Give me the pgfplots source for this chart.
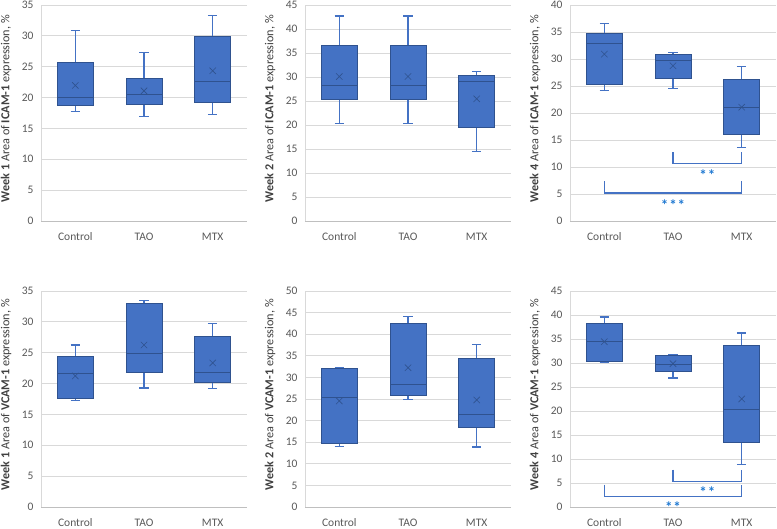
\documentclass[border=0pt]{standalone}
\usepackage{fontspec}
\setmainfont{Carlito}
\usepackage{pgfplots}
\pgfplotsset{compat=1.18}

\definecolor{boxfill}{HTML}{4472C4}
\definecolor{boxedge}{HTML}{2F528F}
\definecolor{gridgrey}{HTML}{D9D9D9}
\definecolor{axisgrey}{HTML}{BFBFBF}
\definecolor{ticktext}{HTML}{595959}
\definecolor{labeltext}{HTML}{404040}
\definecolor{startext}{HTML}{1F78D1}

\pgfplotsset{
  panel/.style={
    scale only axis, width=206pt, height=216pt,
    xmin=-0.5, xmax=2.5, ymin=0,
    xtick={0,1,2}, xticklabels={Control,TAO,MTX},
    ytick distance=5,
    axis x line=bottom, axis y line=left,
    x axis line style={-, draw=axisgrey, line width=0.8pt},
    y axis line style={-, draw=gridgrey, line width=0.8pt},
    major tick length=0pt,
    ymajorgrids, grid style={draw=gridgrey, line width=0.8pt},
    tick label style={font=\fontsize{11.5}{13}\selectfont, text=ticktext},
    /pgf/number format/assume math mode=true,
    yticklabel style={anchor=east, xshift=-4pt},
    xticklabel style={anchor=center, yshift=-16pt},
    every axis y label/.style={at={(axis description cs:0,0.52)},
      xshift=-35pt, rotate=90, anchor=center,
      font=\fontsize{12.2}{14}\selectfont, text=labeltext},
    clip=false,
  },
  whisk/.style={draw=boxfill, line width=1.1pt, mark=none, forget plot},
  boxbody/.style={fill=boxfill, draw=boxedge, line width=0.7pt, mark=none, forget plot},
  medline/.style={draw=boxedge, line width=0.9pt, mark=none, forget plot},
  meanmark/.style={only marks, mark=x, mark size=4.5pt, draw=boxedge,
    mark options={line width=0.6pt}},
  sigbar/.style={color=boxfill, line width=1.1pt, mark=none, forget plot},
}
\tikzset{
  stars/.style={text=startext, font=\fontsize{15}{15}\selectfont\bfseries, inner sep=0pt},
}

% one box: position, lower whisker, lower quartile, median, upper quartile, upper whisker
\newcommand{\onebox}[6]{%
  \pgfmathsetmacro\bxl{#1-0.26}%
  \pgfmathsetmacro\bxr{#1+0.26}%
  \pgfmathsetmacro\capl{#1-0.07}%
  \pgfmathsetmacro\capr{#1+0.07}%
  \edef\doboxplots{%
    \noexpand\addplot[whisk] coordinates {(#1,#5) (#1,#6)};
    \noexpand\addplot[whisk] coordinates {(\capl,#6) (\capr,#6)};
    \noexpand\addplot[whisk] coordinates {(#1,#3) (#1,#2)};
    \noexpand\addplot[whisk] coordinates {(\capl,#2) (\capr,#2)};
    \noexpand\addplot[boxbody] coordinates {(\bxl,#3) (\bxr,#3) (\bxr,#5) (\bxl,#5)} -- cycle;
    \noexpand\addplot[medline] coordinates {(\bxl,#4) (\bxr,#4)};
  }\doboxplots}

\begin{document}
\begin{tikzpicture}
\useasboundingbox (0pt,0pt) rectangle (777pt,529pt);

% top row: ICAM-1
\begin{axis}[panel, at={(41pt,308pt)}, anchor=south west, ymax=35,
  ylabel={\textbf{Week 1} Area of \textbf{ICAM-1} expression, \%}]
\onebox{0}{17.68}{18.66}{20.00}{25.64}{30.88}
\onebox{1}{16.93}{18.88}{20.50}{23.15}{27.26}
\onebox{2}{17.25}{19.15}{22.60}{29.85}{33.30}
\addplot[meanmark] coordinates {(0,21.96) (1,21.09) (2,24.34)};
\end{axis}

\begin{axis}[panel, at={(305pt,308pt)}, anchor=south west, ymax=45,
  ylabel={\textbf{Week 2} Area of \textbf{ICAM-1} expression, \%}]
\onebox{0}{20.37}{25.30}{28.30}{36.58}{42.70}
\onebox{1}{20.37}{25.30}{28.30}{36.58}{42.70}
\onebox{2}{14.46}{19.54}{29.07}{30.30}{31.08}
\addplot[meanmark] coordinates {(0,30.10) (1,30.10) (2,25.45)};
\end{axis}

\begin{axis}[panel, at={(570pt,308pt)}, anchor=south west, ymax=40,
  ylabel={\textbf{Week 4} Area of \textbf{ICAM-1} expression, \%}]
\onebox{0}{24.10}{25.22}{32.95}{34.80}{36.54}
\onebox{1}{24.54}{26.40}{29.74}{30.85}{31.20}
\onebox{2}{13.60}{16.00}{21.02}{26.28}{28.62}
\addplot[meanmark] coordinates {(0,30.90) (1,28.75) (2,21.08)};
% significance brackets: TAO vs MTX, Control vs MTX
\addplot[sigbar] coordinates {(1,12.7) (1,10.57) (2,10.57) (2,12.7)};
\addplot[sigbar] coordinates {(0,7.36) (0,5.19) (2,5.19) (2,7.36)};
\node[stars] at (axis cs:1.5,8.5) {*\hspace{1pt}*};
\node[stars] at (axis cs:1.0,3.0) {*\hspace{1pt}*\hspace{1pt}*};
\end{axis}

% bottom row: VCAM-1
\begin{axis}[panel, at={(41pt,22pt)}, anchor=south west, ymax=35,
  ylabel={\textbf{Week 1} Area of \textbf{VCAM-1} expression, \%}]
\onebox{0}{17.28}{17.66}{21.60}{24.47}{26.25}
\onebox{1}{19.28}{21.77}{24.85}{33.00}{33.49}
\onebox{2}{19.18}{20.15}{21.82}{27.66}{29.76}
\addplot[meanmark] coordinates {(0,21.23) (1,26.25) (2,23.34)};
\end{axis}

\begin{axis}[panel, at={(305pt,22pt)}, anchor=south west, ymax=50,
  ylabel={\textbf{Week 2} Area of \textbf{VCAM-1} expression, \%}]
\onebox{0}{13.97}{14.66}{25.30}{32.10}{32.25}
\onebox{1}{24.85}{25.93}{28.30}{42.44}{44.20}
\onebox{2}{13.89}{18.36}{21.37}{34.41}{37.65}
\addplot[meanmark] coordinates {(0,24.54) (1,32.25) (2,24.77)};
\end{axis}

\begin{axis}[panel, at={(570pt,22pt)}, anchor=south west, ymax=45,
  ylabel={\textbf{Week 4} Area of \textbf{VCAM-1} expression, \%}]
\onebox{0}{30.07}{30.42}{34.44}{38.33}{39.58}
\onebox{1}{26.88}{28.33}{29.72}{31.60}{31.80}
\onebox{2}{8.82}{13.47}{20.42}{33.68}{36.25}
\addplot[meanmark] coordinates {(0,34.44) (1,29.86) (2,22.50)};
% significance brackets: TAO vs MTX, Control vs MTX
\addplot[sigbar] coordinates {(1,7.78) (1,5.28) (2,5.28) (2,7.78)};
\addplot[sigbar] coordinates {(0,4.65) (0,2.15) (2,2.15) (2,4.65)};
\node[stars] at (axis cs:1.5,3.0) {*\hspace{1pt}*};
\node[stars] at (axis cs:1.0,0.0) {*\hspace{1pt}*};
\end{axis}
\end{tikzpicture}
\end{document}
